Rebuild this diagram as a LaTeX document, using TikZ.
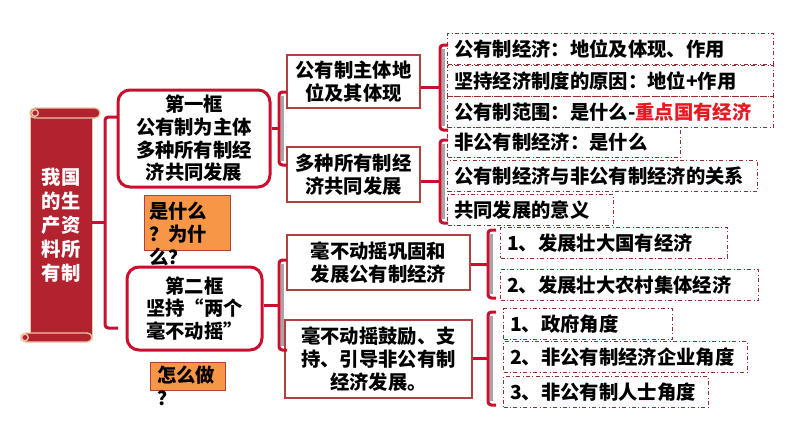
\documentclass[tikz,border=0pt]{standalone}
\usepackage{fontspec}
\setmainfont{Noto Sans CJK SC}
\usetikzlibrary{positioning}
\definecolor{cred}{HTML}{C8102E}
\definecolor{cbright}{HTML}{E31B23}
\definecolor{cscroll}{HTML}{B3232F}
\definecolor{ctan}{HTML}{E9C8A5}
\definecolor{cline}{HTML}{B0413E}
\definecolor{cdash}{HTML}{9B2D30}
\definecolor{corange}{HTML}{F79646}
\definecolor{cgray}{HTML}{A6A6A6}
\tikzset{
  every picture/.style={x=0.75pt, y=-0.75pt, font=\fontsize{14.5pt}{17pt}\selectfont\bfseries},
  frame/.style={draw=cred, line width=2.25pt, rounded corners=9pt, fill=white, align=center, inner sep=0pt},
  topic/.style={draw=cline, line width=0.8pt, fill=white, align=center, inner sep=0pt},
  item/.style={draw=cdash, dash dot, line width=0.8pt, anchor=west, align=left, inner xsep=5pt, inner ysep=0pt, minimum height=23pt, text width=#1},
  ask/.style={draw=cline, line width=0.6pt, fill=corange},
  asktext/.style={anchor=north west, align=left, inner sep=0pt, font=\fontsize{14.5pt}{17pt}\selectfont\bfseries},
  scroll/.style={fill=cscroll, draw=ctan, line width=0.6pt, text=white, align=center, inner sep=0pt, font=\fontsize{14.5pt}{18pt}\selectfont\bfseries},
  roll/.style={fill=cscroll, draw=ctan, line width=1pt, rounded corners=3.5pt},
  brace/.style={draw=cred, line width=2.25pt, rounded corners=2.5pt},
  strip/.style={draw=cgray, line width=2.25pt},
}
\begin{document}
\begin{tikzpicture}
  \useasboundingbox (0,0) rectangle (794,447);
  % scroll
  \node[scroll, minimum width=46.5pt, minimum height=168.75pt] (scroll) at (61,225.5) {我国\\的生\\产资\\料所\\有制};
  \draw[roll] (30,108) rectangle (100,118);
  \draw[ctan, line width=1pt] (35,113) circle[radius=2.5pt];
  \draw[roll] (21,333) rectangle (92,342);
  \draw[ctan, line width=1pt] (25,337.5) circle[radius=2.5pt];
  % frames
  \node[frame, minimum width=114pt, minimum height=72.75pt] (box1) at (194,138.5) {第一框\\公有制为主体\\多种所有制经\\济共同发展};
  \node[frame, minimum width=101.25pt, minimum height=62.25pt] (box2) at (194.5,308.5) {第二框\\坚持“两个\\毫不动摇”};
  \node[ask, minimum width=64.5pt, minimum height=41.25pt] (ask1) at (187,222.5) {};
  \node[asktext] (ask1t) at (149,202) {是什么\\？为什\\么？};
  \node[ask, minimum width=56.25pt, minimum height=21pt] (ask2) at (187.5,376) {};
  \node[asktext] (ask2t) at (157,366) {怎么做\\？};
  % topics
  \node[topic, minimum width=99.75pt, minimum height=39.75pt] (topA) at (353.5,81.5) {公有制主体地\\位及其体现};
  \node[topic, minimum width=99.75pt, minimum height=41.25pt] (topB) at (353.5,174.5) {多种所有制经\\济共同发展};
  \node[topic, minimum width=137.25pt, minimum height=41.25pt] (topC) at (378.5,262.5) {毫不动摇巩固和\\发展公有制经济};
  \node[topic, minimum width=140.25pt, minimum height=58.5pt] (topD) at (378.5,359) {毫不动摇鼓励、支\\持、引导非公有制\\经济发展。};
  % items
  \foreach \n/\xx/\y/\w/\t in {
      it1/447/49/234.5pt/{公有制经济：地位及体现、作用},
      it2/447/81/234.5pt/{坚持经济制度的原因：地位+作用},
      it3/447/112/234.5pt/{公有制范围：是什么-\textcolor{cbright}{重点国有经济}},
      it4/447/142.5/164.75pt/{非公有制经济：是什么},
      it5/447/176/222.5pt/{公有制经济与非公有制经济的关系},
      it6/447/210/114.5pt/{共同发展的意义},
      lo1/500/243/160.25pt/{1、发展壮大国有经济},
      lo2/500/285/183.5pt/{2、发展壮大农村集体经济},
      lo3/503/324/116.75pt/{1、政府角度},
      lo4/503/357/173pt/{2、非公有制经济企业角度},
      lo5/503/392/143.75pt/{3、非公有制人士角度}}
    \node[item=\w] (\n) at (\xx,\y) {\t};
  % brackets
  \coordinate (m0) at (105,222.5);
  \draw[brace] (118,117) -- (105,117) -- (105,328) -- (118,328);
  \draw[brace] (scroll.east |- m0) -- (m0);
  \foreach \bx/\ta/\tb/\src [count=\i] in {
      279/92/165/box1, 279/260/350/box2,
      440/45/130/topA, 440/140/223/topB,
      488/230/298/topC, 488/312/405/topD}
  {
    \coordinate (m\i) at (\bx,{(\ta+\tb)/2});
    \draw[strip] (\bx+3.5,\ta+4) -- (\bx+3.5,\tb-4);
    \draw[brace] (\bx+8,\ta) -- (\bx,\ta) -- (\bx,\tb) -- (\bx+8,\tb);
    \draw[brace] (\src.east |- m\i) -- (m\i);
  }
\end{tikzpicture}
\end{document}
